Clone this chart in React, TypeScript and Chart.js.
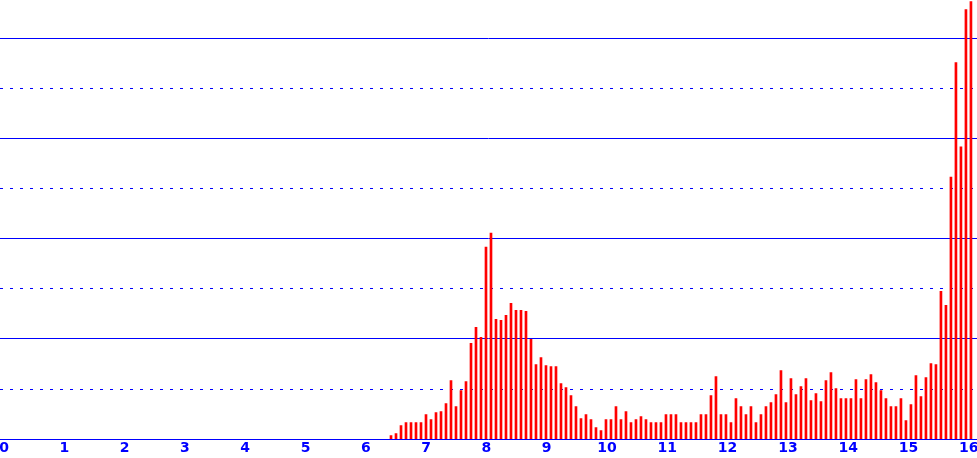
import React, { useEffect, useRef } from "react";
import { Chart, registerables } from "chart.js";

Chart.register(...registerables);

// Histogram bins: first bin centre and bin width (x units)
const binStart = 6.418;
const binWidth = 0.08291;

// Bar heights (in grid units) for each consecutive bin
const heights: number[] = [
  0.07, 0.11, 0.27, 0.33, 0.33, 0.33, 0.33, 0.49, 0.39, 0.53,
  0.55, 0.71, 1.17, 0.65, 0.97, 1.15, 1.91, 2.23, 2.03, 3.83,
  4.11, 2.39, 2.37, 2.47, 2.71, 2.57, 2.57, 2.55, 1.99, 1.49,
  1.63, 1.47, 1.45, 1.45, 1.11, 1.03, 0.87, 0.65,
  0.41, 0.49, 0.39, 0.23, 0.17, 0.39, 0.39, 0.65, 0.39, 0.55,
  0.33, 0.39, 0.45, 0.39, 0.33, 0.33, 0.33, 0.49, 0.49, 0.49,
  0.33, 0.33, 0.33, 0.33, 0.49, 0.49, 0.87, 1.25, 0.49, 0.49,
  0.33, 0.81, 0.65, 0.49, 0.65, 0.33, 0.49, 0.65,
  0.73, 0.89, 1.37, 0.73, 1.21, 0.89, 1.05, 1.21, 0.77, 0.91,
  0.75, 1.17, 1.33, 1.01, 0.81, 0.81, 0.81, 1.19, 0.81, 1.19,
  1.29, 1.13, 0.97, 0.81, 0.65, 0.65, 0.81, 0.37, 0.69, 1.27,
  0.85, 1.23, 1.51, 1.49,
  2.95, 2.67, 5.23, 7.51, 5.83, 8.57, 8.73,
];

const xTicks: number[] = [0, 1, 2, 3, 4, 5, 6, 7, 8, 9, 10, 11, 12, 13, 14, 15, 16];
const yTicks: number[] = [0, 1, 2, 3, 4, 5, 6, 7, 8];

const X_MIN = -0.0663;
const X_MAX = 16.136;
const Y_MAX = 8.76;

export default function App() {
  const canvasRef = useRef<HTMLCanvasElement | null>(null);

  useEffect(() => {
    document.body.style.margin = "0";
    const canvas = canvasRef.current;
    if (!canvas) return;
    const points = heights.map((h, i) => ({ x: binStart + i * binWidth, y: h }));
    const chart = new Chart(canvas, {
      type: "bar",
      data: {
        datasets: [
          {
            data: points as any,
            backgroundColor: "#ff0000",
            borderWidth: 0,
            barThickness: 2,
          },
        ],
      },
      options: {
        animation: false,
        responsive: false,
        devicePixelRatio: 1,
        layout: { padding: 0 },
        plugins: {
          legend: { display: false },
          tooltip: { enabled: false },
        },
        scales: {
          x: {
            type: "linear",
            offset: false,
            min: X_MIN,
            max: X_MAX,
            grid: { display: false, drawTicks: false, offset: false },
            border: { display: false },
            afterBuildTicks: (scale: any) => {
              scale.ticks = xTicks.map((v) => ({ value: v }));
            },
            afterFit: (scale: any) => {
              scale.paddingLeft = 0;
              scale.paddingRight = 0;
            },
            ticks: {
              color: "#0000ff",
              padding: 1,
              maxRotation: 0,
              autoSkip: false,
              font: { family: "DejaVu Sans", size: 14, weight: "bold", lineHeight: 1.2 },
              callback: (v: any) => String(v),
            },
          },
          y: {
            type: "linear",
            min: 0,
            max: Y_MAX,
            afterBuildTicks: (scale: any) => {
              scale.ticks = yTicks.map((v) => ({ value: v }));
            },
            afterFit: (scale: any) => {
              scale.width = 0;
            },
            grid: {
              color: "#0000ff",
              lineWidth: 1,
              drawTicks: false,
            },
            border: {
              display: false,
              dash: (ctx: any) => (ctx.tick && ctx.tick.value % 2 === 1 ? [3, 7] : []),
            },
            ticks: { display: false },
          },
        },
      },
    });
    return () => chart.destroy();
  }, []);

  return (
    <div style={{ width: 977, height: 458, background: "#ffffff" }}>
      <canvas ref={canvasRef} width={977} height={458} style={{ display: "block" }} />
    </div>
  );
}
